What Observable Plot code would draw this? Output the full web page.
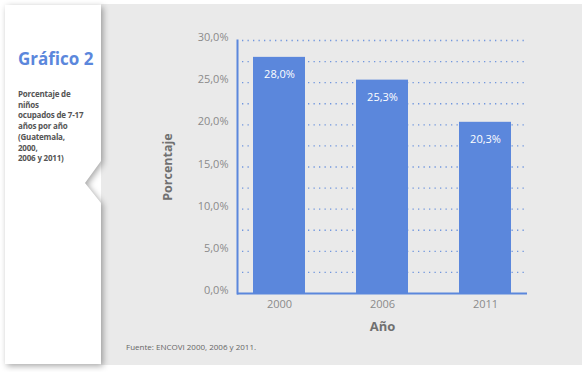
<!DOCTYPE html>
<html>
<head>
<meta charset="utf-8">
<script src="https://cdn.jsdelivr.net/npm/d3@7"></script>
<script src="https://cdn.jsdelivr.net/npm/@observablehq/plot@0.6"></script>
<style>
  html, body { margin: 0; padding: 0; background: #fff; }
  #wrap { position: relative; width: 586px; height: 372px; overflow: hidden; font-family: "Open Sans", sans-serif; background: #fff; }
  #grey { position: absolute; left: 101px; top: 4px; width: 481px; height: 361px; background: #eaeaea; }
  #side { position: absolute; left: 0; top: 0; width: 110px; height: 372px; filter: drop-shadow(2px 2px 3px rgba(0,0,0,0.35)); }
  #sideInner { position: absolute; left: 5px; top: 5px; width: 96px; height: 359px; background: #fff;
    clip-path: polygon(0 0, 96px 0, 96px 156px, 80px 178px, 96px 198px, 96px 359px, 0 359px); }
  #title { position: absolute; left: 18px; top: 47px; font-size: 17px; font-weight: 700; color: #5b87dc; white-space: nowrap; }
  #sub { position: absolute; left: 18px; top: 89px; font-size: 8px; line-height: 10.7px; font-weight: 700; color: #555; letter-spacing: -0.2px; }
  #caption { position: absolute; left: 126px; top: 341px; font-size: 8px; color: #666; white-space: nowrap; }
  #chart { position: absolute; left: 0; top: 0; }
</style>
</head>
<body>
<div id="wrap">
  <div id="grey"></div>
  <div id="side"><div id="sideInner"></div></div>
  <div id="title">Gráfico 2</div>
  <div id="sub">Porcentaje de<br>niños<br>ocupados de 7-17<br>años por año<br>(Guatemala,<br>2000,<br>2006 y 2011)</div>
  <div id="caption">Fuente: ENCOVI 2000, 2006 y 2011.</div>
  <div id="chart"></div>
</div>
<script>
const years = ["2000", "2006", "2011"];
const values = [28.0, 25.3, 20.3];
const labelTicks = [0, 5, 10, 15, 20, 25, 30];
const gridTicks = [2.5, 5, 7.5, 10, 12.5, 15, 17.5, 20, 22.5, 25, 27.5, 30];

const data = years.map((y, i) => ({year: y, value: values[i]}));
const fmt = v => v.toFixed(1).replace(".", ",") + "%";
const blue = "#5b87dc";

const plot = Plot.plot({
  width: 586,
  height: 372,
  marginLeft: 237,
  marginRight: 59,
  marginTop: 40,
  marginBottom: 79,
  style: {background: "transparent", fontFamily: "Open Sans, sans-serif"},
  x: {domain: years, paddingInner: 0.5, paddingOuter: 0.15, label: null},
  y: {domain: [0, 30], label: null},
  marks: [
    Plot.gridY(gridTicks, {stroke: blue, strokeOpacity: 0.85, strokeWidth: 1.3, strokeDasharray: "1.3,4.2", insetLeft: 5}),
    Plot.barY(data, {x: "year", y: "value", fill: blue}),
    Plot.text(data, {x: "year", y: "value", text: d => fmt(d.value), fill: "white", fontSize: 11, dy: 17, lineAnchor: "middle"}),
    Plot.ruleY([0], {stroke: blue, strokeWidth: 2}),
    Plot.frame({anchor: "left", stroke: blue, strokeWidth: 2}),
    Plot.axisY(labelTicks, {tickSize: 0, tickPadding: 9, dy: -3, tickFormat: fmt, fontSize: 11, fill: "#8a8a8a", label: null}),
    Plot.axisX({tickSize: 0, tickPadding: 7, fontSize: 11, fill: "#8a8a8a", label: null}),
    Plot.text(["Porcentaje"], {frameAnchor: "left", textAnchor: "middle", lineAnchor: "middle", dx: -70, rotate: -90, fontSize: 12.5, fontWeight: "bold", fill: "#707070"}),
    Plot.text(["Año"], {frameAnchor: "bottom", textAnchor: "middle", lineAnchor: "middle", dy: 33, fontSize: 13, fontWeight: "bold", fill: "#707070"})
  ]
});
document.getElementById("chart").appendChild(plot);
</script>
</body>
</html>
